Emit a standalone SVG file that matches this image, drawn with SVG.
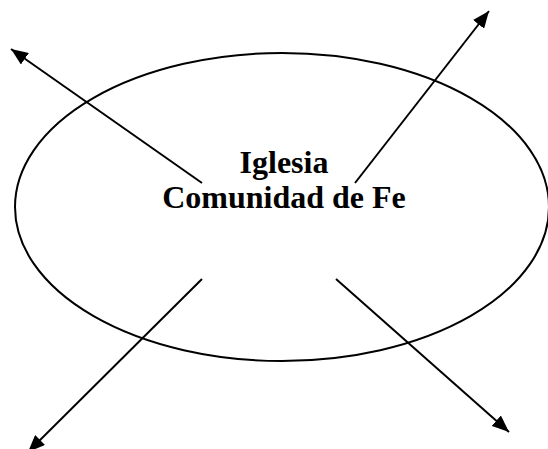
<svg xmlns="http://www.w3.org/2000/svg" width="548" height="449" viewBox="0 0 548 449">
<style>
.shape{fill:none;stroke:#000;stroke-width:2}
.conn{stroke:#000;stroke-width:2;fill:none;marker-end:url(#arr)}
.lbl{font-family:"Liberation Serif","Times New Roman",serif;font-weight:bold;font-size:32px;fill:#000;text-anchor:middle}
</style>
<defs>
<marker id="arr" markerUnits="userSpaceOnUse" markerWidth="18" markerHeight="14" refX="17" refY="7" orient="auto">
<path d="M0,0 L17,7 L0,14 z" fill="#000"/>
</marker>
</defs>
<rect width="548" height="449" fill="#fff"/>
<g id="node-iglesia">
<ellipse class="shape" cx="282" cy="207" rx="267" ry="154"/>
<text class="lbl" x="284" y="173">Iglesia</text>
<text class="lbl" x="284" y="208">Comunidad de Fe</text>
</g>
<g id="connectors">
<line class="conn" x1="202" y1="183" x2="11" y2="49"/>
<line class="conn" x1="355" y1="183" x2="489" y2="11"/>
<line class="conn" x1="202" y1="279" x2="28" y2="452"/>
<line class="conn" x1="336" y1="279" x2="509" y2="432"/>
</g>
</svg>
